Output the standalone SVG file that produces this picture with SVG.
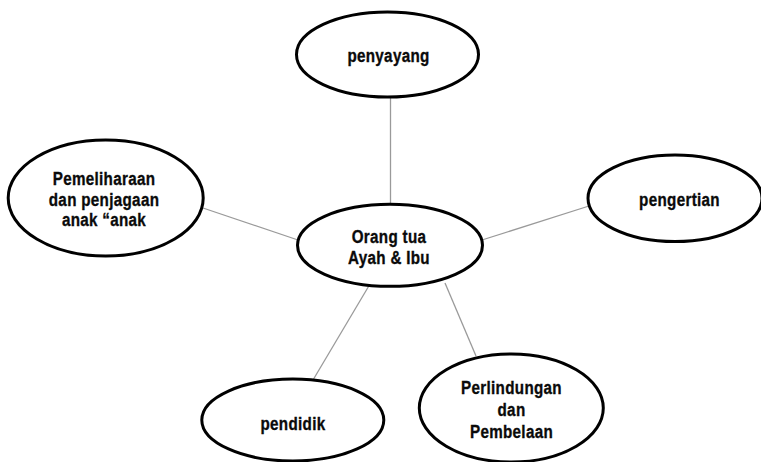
<svg xmlns="http://www.w3.org/2000/svg" width="761" height="462" viewBox="0 0 761 462">
<style>
.node ellipse{fill:#fff;stroke:#000;stroke-width:3}
.node text{font-family:"Liberation Sans",Arial,sans-serif;font-weight:bold;font-size:19px;fill:#0a0a0a;stroke:#0a0a0a;stroke-width:0.35;letter-spacing:0.4px;text-anchor:middle}
#connectors line{stroke:#9a9a9a;stroke-width:1.3}
</style>
<rect width="761" height="462" fill="#fff"/>
<g id="connectors">
<line x1="390.5" y1="97" x2="390.5" y2="204"/>
<line x1="203" y1="208" x2="298" y2="240"/>
<line x1="482" y1="240" x2="589" y2="206"/>
<line x1="369.4" y1="285" x2="313.3" y2="379.5"/>
<line x1="445" y1="283" x2="476" y2="356"/>
</g>
<g id="node-penyayang" class="node">
<ellipse cx="387.5" cy="54.5" rx="91" ry="42.5"/>
<g transform="translate(388.5 0) scale(0.8 1)"><text x="0" y="62.3">penyayang</text></g>
</g>
<g id="node-orangtua" class="node">
<ellipse cx="390" cy="245.3" rx="92.5" ry="41"/>
<g transform="translate(389 0) scale(0.8 1)">
<text x="0" y="242.7">Orang tua</text>
<text x="0" y="264">Ayah &amp; Ibu</text>
</g>
</g>
<g id="node-pemeliharaan" class="node">
<ellipse cx="105.7" cy="198" rx="97.5" ry="58"/>
<g transform="translate(104 0) scale(0.8 1)">
<text x="0" y="185">Pemeliharaan</text>
<text x="0" y="206">dan penjagaan</text>
<text x="0" y="226">anak “anak</text>
</g>
</g>
<g id="node-pengertian" class="node">
<ellipse cx="675" cy="198.3" rx="87" ry="43.3"/>
<g transform="translate(679.5 0) scale(0.8 1)"><text x="0" y="206">pengertian</text></g>
</g>
<g id="node-pendidik" class="node">
<ellipse cx="292.8" cy="420" rx="91" ry="41"/>
<g transform="translate(293 0) scale(0.8 1)"><text x="0" y="430">pendidik</text></g>
</g>
<g id="node-perlindungan" class="node">
<ellipse cx="511.3" cy="408" rx="92" ry="54"/>
<g transform="translate(511.5 0) scale(0.8 1)">
<text x="0" y="394">Perlindungan</text>
<text x="0" y="416">dan</text>
<text x="0" y="438">Pembelaan</text>
</g>
</g>
</svg>
